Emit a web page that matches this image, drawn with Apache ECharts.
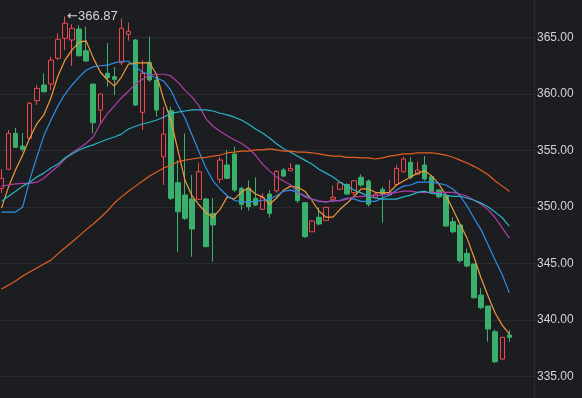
<!DOCTYPE html>
<html>
<head>
<meta charset="utf-8">
<script src="https://cdn.jsdelivr.net/npm/echarts@6/dist/echarts.min.js"></script>
<style>
  html, body { margin: 0; padding: 0; background: #1c1d21; }
  #kline { width: 582px; height: 398px; }
</style>
</head>
<body>
<div id="kline"></div>
<script>
  // 76 slots on the x axis, the last 3 are left empty
  var categories = [];
  for (var i = 1; i <= 76; i++) categories.push(String(i));

  var openVals = [351.65, 353.34, 356.52, 355.40, 356.08, 359.41, 360.80, 360.88, 363.16, 364.93,
    364.78, 365.75, 363.83, 360.88, 358.58, 361.83, 361.53, 362.77, 365.28, 364.78,
    358.38, 362.81, 361.24, 354.45, 358.52, 352.15, 351.06, 350.71, 350.68, 350.71,
    349.44, 352.45, 353.72, 354.69, 351.65, 351.65, 350.77, 349.80, 351.15, 351.44,
    353.27, 353.21, 353.72, 350.38, 347.81, 349.09, 348.80, 350.68, 351.57, 352.00,
    351.27, 352.63, 352.30, 350.86, 351.57, 351.06, 352.00, 353.12, 353.96, 352.90,
    353.72, 352.68, 351.50, 351.00, 348.70, 348.41, 345.90, 344.96, 342.21, 341.24,
    338.96, 336.55, 338.67];
  var closeVals = [352.54, 356.52, 355.28, 355.10, 359.18, 360.50, 360.20, 363.00, 364.84, 366.26,
    365.81, 363.39, 362.92, 357.46, 360.00, 361.44, 361.30, 365.81, 365.55, 359.03,
    361.83, 361.24, 358.58, 356.46, 350.77, 349.58, 349.00, 348.05, 353.12, 346.49,
    348.41, 354.16, 352.54, 351.50, 350.24, 350.03, 350.18, 350.86, 349.44, 353.16,
    352.74, 353.42, 350.56, 347.37, 348.76, 348.50, 349.97, 350.86, 352.15, 351.15,
    352.33, 351.95, 350.24, 351.15, 351.15, 351.27, 353.42, 354.25, 352.63, 353.27,
    352.48, 351.39, 350.91, 348.32, 347.81, 345.25, 344.78, 341.97, 341.09, 339.20,
    336.31, 338.47, 338.47];
  var lowVals = [351.24, 353.30, 355.22, 354.90, 356.00, 359.03, 360.11, 360.35, 363.00, 363.89,
    362.48, 363.30, 362.86, 356.52, 357.40, 360.65, 359.91, 362.57, 364.72, 358.94,
    356.81, 361.09, 357.99, 351.95, 350.62, 346.04, 348.85, 345.60, 350.62, 346.46,
    345.16, 352.12, 352.45, 351.35, 349.73, 349.67, 350.09, 349.73, 349.07, 351.27,
    352.63, 353.21, 350.38, 347.28, 347.81, 348.38, 348.80, 350.68, 351.50, 351.06,
    351.06, 351.80, 350.03, 350.77, 348.61, 351.06, 351.95, 353.04, 352.45, 352.90,
    352.33, 351.33, 350.77, 348.26, 347.67, 345.07, 344.66, 341.92, 340.95, 338.08,
    336.17, 336.50, 338.08];
  var highVals = [353.36, 356.81, 356.99, 356.55, 359.30, 360.80, 361.83, 363.30, 365.37, 366.87,
    366.19, 366.10, 365.96, 360.90, 360.06, 364.51, 362.39, 366.70, 366.31, 364.87,
    363.00, 365.07, 361.68, 358.88, 358.88, 354.16, 356.52, 352.83, 353.94, 350.80,
    350.80, 354.42, 355.04, 355.35, 351.80, 352.35, 352.63, 351.22, 351.50, 353.27,
    353.48, 353.87, 353.72, 350.38, 348.85, 349.97, 350.00, 351.90, 352.20, 352.10,
    352.39, 352.89, 352.45, 351.30, 351.80, 352.39, 353.72, 354.45, 354.40, 354.01,
    354.51, 352.83, 351.57, 351.00, 349.09, 348.41, 346.35, 344.96, 342.81, 341.24,
    339.18, 338.50, 339.12];

  // moving averages
  var ma5 = [349.9, 351.8, 353.3, 354.6, 356.1, 357.35, 358.15, 359.65, 361.6, 363.0,
    363.9, 364.6, 364.7, 363.2, 361.95, 361.25, 360.7, 361.5, 362.65, 362.75,
    362.75, 362.75, 361.7, 359.5, 357.7, 355.05, 352.4, 351.0, 350.2, 349.5,
    349.1, 349.8, 350.9, 350.7, 351.3, 351.7, 351.15, 350.9, 350.25, 350.8,
    351.5, 351.85, 351.75, 351.4, 350.6, 349.65, 349.1, 349.1, 349.8, 350.35,
    350.95, 351.6, 351.6, 351.3, 351.25, 351.3, 351.95, 352.3, 352.65, 353.0,
    353.2, 352.75, 352.05, 351.05, 349.8, 348.5, 347.25, 345.55, 343.7, 342.1,
    340.6, 339.55, 338.75];
  var ma10 = [349.55, 349.55, 349.55, 350.0, 352.4, 354.4, 356.3, 357.7, 358.95, 360.0,
    360.8, 361.5, 362.1, 362.4, 362.5, 362.55, 362.75, 362.9, 362.9, 362.4,
    361.95, 361.7, 361.4, 361.15, 360.35, 359.0, 357.9, 356.4, 354.9, 353.45,
    352.3, 351.6, 351.0, 350.6, 350.45, 350.45, 350.5, 350.6, 350.7, 351.0,
    351.4, 351.5, 351.3, 351.0, 350.7, 350.5, 350.45, 350.55, 350.6, 350.8,
    350.7, 350.5, 350.5, 350.5, 350.8, 351.05, 351.5, 351.85, 351.95, 352.2,
    352.2, 352.2, 352.1, 351.95, 351.6, 351.0, 350.1, 349.0, 348.0, 346.65,
    345.3, 344.0, 342.4];
  var ma20 = [351.85, 351.95, 352.05, 352.1, 352.1, 352.2, 352.55, 353.1, 353.6, 354.25,
    354.8, 355.2, 355.65, 356.2, 357.35, 358.25, 358.95, 359.65, 360.25, 360.9,
    361.3, 361.7, 361.75, 361.75, 361.6, 361.05, 360.35, 359.75, 358.95, 357.8,
    357.15, 356.7, 356.3, 355.95, 355.65, 355.2, 354.6, 353.8, 353.2, 352.65,
    352.3, 351.95, 351.3, 350.9, 350.7, 350.55, 350.45, 350.55, 350.55, 350.7,
    350.9, 350.95, 350.95, 351.05, 351.05, 351.2, 351.3, 351.4, 351.4, 351.3,
    351.3, 351.3, 351.3, 351.3, 351.3, 351.15, 350.95, 350.6, 350.25, 349.75,
    349.05, 348.15, 347.25];
  var ma30 = [350.5, 350.95, 351.4, 351.85, 352.2, 352.65, 353.0, 353.45, 353.8, 354.35,
    354.7, 355.05, 355.3, 355.5, 355.75, 356.0, 356.2, 356.45, 356.9, 357.15,
    357.35, 357.5, 357.7, 357.95, 358.3, 358.4, 358.5, 358.6, 358.6, 358.6,
    358.5, 358.3, 358.15, 357.95, 357.7, 357.35, 356.9, 356.55, 356.1, 355.6,
    355.15, 354.85, 354.5, 354.15, 353.8, 353.35, 353.0, 352.65, 352.2, 351.85,
    351.5, 351.25, 350.95, 350.8, 350.7, 350.7, 350.7, 350.9, 351.05, 351.3,
    351.4, 351.2, 351.15, 351.05, 350.95, 350.95, 350.8, 350.6, 350.35, 350.0,
    349.55, 349.05, 348.3];
  var ma60 = [342.75, 343.1, 343.45, 343.9, 344.25, 344.6, 344.95, 345.3, 345.85, 346.4,
    346.9, 347.45, 348.0, 348.5, 349.05, 349.65, 350.35, 350.9, 351.4, 351.85,
    352.3, 352.75, 353.1, 353.45, 353.7, 354.0, 354.15, 354.25, 354.35, 354.4,
    354.5, 354.6, 354.8, 354.85, 354.95, 354.95, 355.05, 355.05, 355.15, 355.05,
    354.95, 354.95, 354.85, 354.85, 354.8, 354.7, 354.6, 354.5, 354.5, 354.4,
    354.4, 354.35, 354.35, 354.25, 354.35, 354.5, 354.6, 354.7, 354.7, 354.8,
    354.8, 354.8, 354.7, 354.6, 354.4, 354.15, 353.9, 353.6, 353.25, 352.85,
    352.3, 351.85, 351.4];

  var yTicks = [335, 340, 345, 350, 355, 360, 365];

  // echarts candlestick order: [open, close, low, high]
  var candles = openVals.map(function (o, i) {
    return [o, closeVals[i], lowVals[i], highVals[i]];
  });

  function maLine(name, data, color) {
    return {
      name: name,
      type: 'line',
      data: data,
      symbol: 'none',
      clip: false,
      lineStyle: { width: 1.2, color: color },
      z: 3
    };
  }

  var kline = echarts.init(document.getElementById('kline'));
  kline.setOption({
    backgroundColor: '#1c1d21',
    animation: false,
    grid: { left: -2, right: 48, top: 0, bottom: 0, outerBoundsMode: 'none' },
    xAxis: {
      type: 'category',
      data: categories,
      boundaryGap: true,
      axisLine: { show: false },
      axisTick: { show: false },
      axisLabel: { show: false },
      splitLine: { show: false }
    },
    yAxis: {
      type: 'value',
      position: 'right',
      scale: true,
      min: 333.1,
      max: 368.32,
      axisLine: { show: true, lineStyle: { color: '#2c2d32' } },
      axisTick: { show: false, customValues: yTicks },
      axisLabel: {
        customValues: yTicks,
        color: '#d2d3d6',
        fontSize: 12,
        fontFamily: 'Liberation Sans',
        margin: 3,
        formatter: function (v) { return v.toFixed(2); }
      },
      splitLine: { show: true, lineStyle: { color: '#2a2b30', width: 1 } }
    },
    series: [
      {
        name: 'K',
        type: 'candlestick',
        data: candles,
        barWidth: 5,
        clip: false,
        itemStyle: {
          color: '#1c1d21',
          color0: '#3ab06c',
          borderColor: '#ec4850',
          borderColor0: '#3ab06c',
          borderWidth: 1
        },
        markPoint: {
          symbol: 'circle',
          symbolSize: 0.1,
          data: [{ type: 'max', valueDim: 'highest' }],
          label: {
            show: true,
            position: 'right',
            distance: 2,
            color: '#d6d7da',
            fontSize: 13,
            fontFamily: 'Liberation Sans',
            formatter: function (p) { return '{a|\u2190}{b|' + Number(p.value).toFixed(2) + '}'; },
            rich: {
              a: { fontFamily: 'DejaVu Sans', fontSize: 13, color: '#d6d7da' },
              b: { fontFamily: 'Liberation Sans', fontSize: 13, color: '#d6d7da' }
            }
          }
        }
      },
      maLine('MA5', ma5, '#ee9a36'),
      maLine('MA10', ma10, '#2d8ee6'),
      maLine('MA20', ma20, '#b03ea6'),
      maLine('MA30', ma30, '#29b5c8'),
      maLine('MA60', ma60, '#e2601f')
    ]
  });
</script>
</body>
</html>
